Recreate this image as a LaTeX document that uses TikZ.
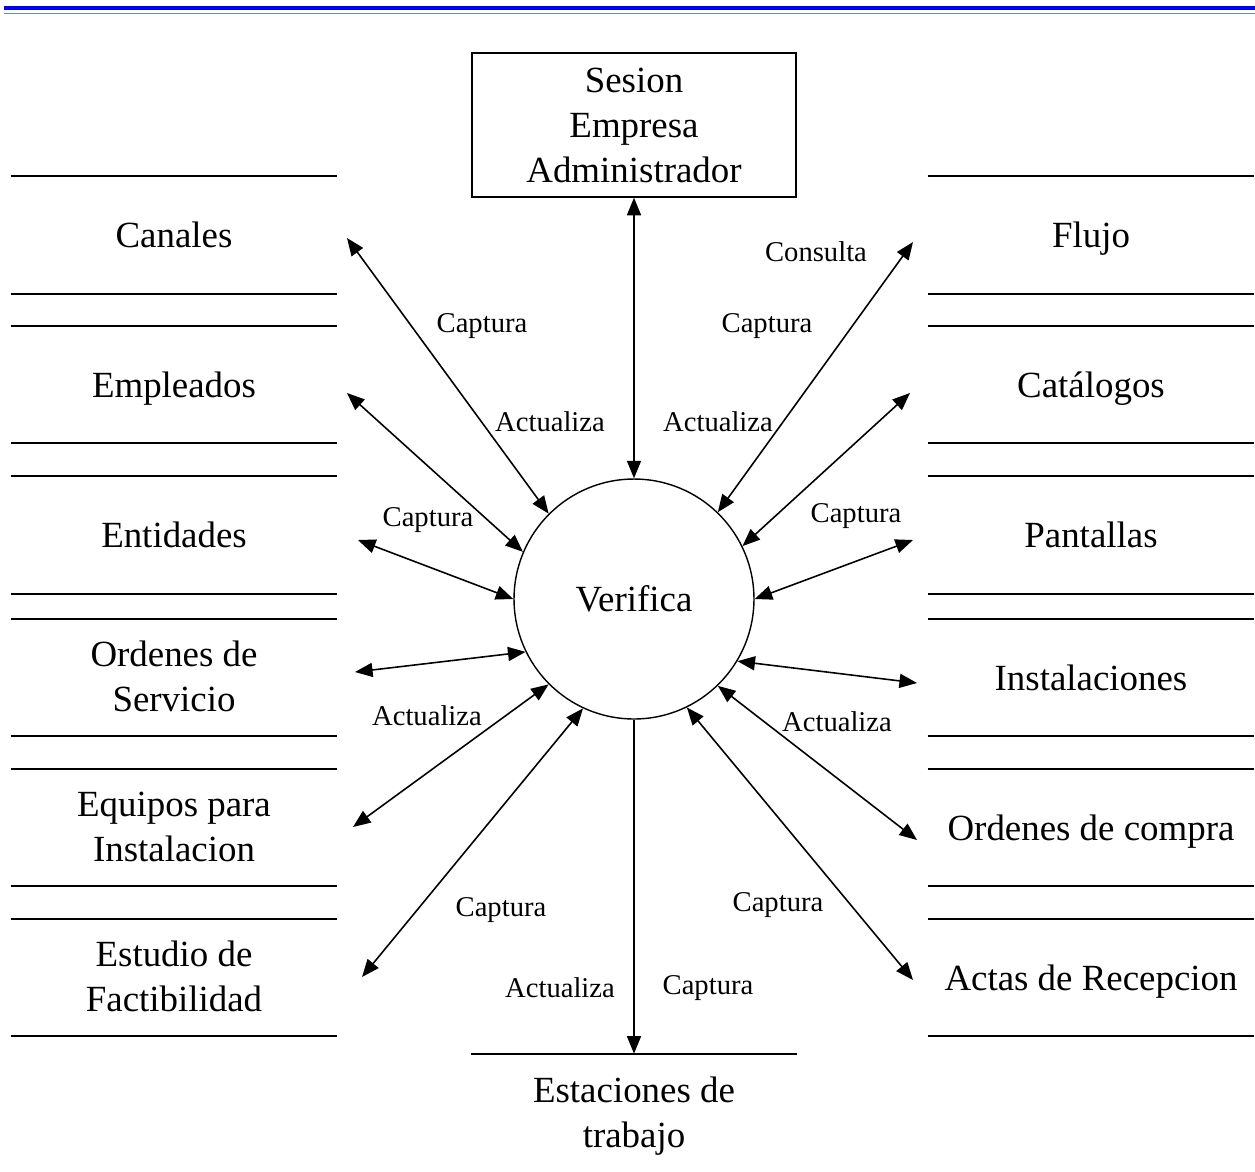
\documentclass[tikz,border=0pt]{standalone}
\usepackage{fontspec}
\setmainfont{Liberation Serif}
\usetikzlibrary{arrows.meta}
\definecolor{azulraya}{RGB}{0,0,240}
\definecolor{azulclaro}{RGB}{95,140,200}
\newcommand{\bajar}{\rule{0pt}{21pt}}

\begin{document}
\begin{tikzpicture}[x=0.02cm,y=-0.02cm,
  >={Triangle[length=10pt,width=8pt]},
  flecha/.style={<->,line width=0.9pt},
  linea/.style={line width=1.1pt},
  almacen/.style={minimum width=6.52cm,minimum height=2.34cm,inner sep=0pt,align=center,
    font=\fontsize{21}{25.6}\selectfont,execute at begin node=\rule{0pt}{22pt},execute at end node=\strut},
  etiqueta/.style={inner sep=1pt,font=\fontsize{16.3}{19}\selectfont}]
\useasboundingbox (0,0) rectangle (1255,1171);

% lineas del encabezado
\draw[azulraya,line width=2.3pt] (4,8) -- (1255,8);
\draw[azulclaro,line width=1.1pt] (4,13.5) -- (1255,13.5);

% proceso y entidad externa
\node[draw,line width=0.8pt,circle,minimum size=4.8cm,font=\fontsize{21}{25.6}\selectfont] (ver) at (634,599) {Verifica};
\node[draw,line width=0.8pt,minimum width=6.48cm,minimum height=2.88cm,align=center,
  font=\fontsize{21}{25.6}\selectfont] (sesion) at (634,125) {Sesion\\Empresa\\Administrador};

% almacenes izquierda
\node[almacen] (canales) at (174,235) {Canales};
\node[almacen] (empleados) at (174,384.5) {Empleados};
\node[almacen] (entidades) at (174,535) {Entidades};
\node[almacen] (ordserv) at (174,677.5) {\bajar Ordenes de\\Servicio};
\node[almacen] (equipos) at (174,827.5) {\bajar Equipos para\\Instalacion};
\node[almacen] (estudio) at (174,977.5) {\bajar Estudio de\\Factibilidad};

% almacenes derecha
\node[almacen] (flujo) at (1091,235) {Flujo};
\node[almacen] (catalogos) at (1091,384.5) {Catálogos};
\node[almacen] (pantallas) at (1091,535) {Pantallas};
\node[almacen] (instal) at (1091,677.5) {Instalaciones};
\node[almacen] (ordcompra) at (1091,827.5) {Ordenes de compra};
\node[almacen] (actas) at (1091,977.5) {Actas de Recepcion};

\foreach \n in {canales,empleados,entidades,ordserv,equipos,estudio,flujo,catalogos,pantallas,instal,ordcompra,actas}
  \draw[linea] (\n.north west) -- (\n.north east) (\n.south west) -- (\n.south east);

\node[almacen,minimum height=2.36cm] (estaciones) at (634,1113) {\bajar Estaciones de\\trabajo};
\draw[linea] (estaciones.north west) -- (estaciones.north east);

% extremos libres de las flechas
\coordinate (c-canales) at (347,238);
\coordinate (c-empleados) at (347,393);
\coordinate (c-entidades) at (358,540);
\coordinate (c-ordserv) at (355,672);
\coordinate (c-equipos) at (353,827);
\coordinate (c-estudio) at (362,977);
\coordinate (c-flujo) at (913,242);
\coordinate (c-catalogos) at (910,393);
\coordinate (c-pantallas) at (913,540);
\coordinate (c-instal) at (917,683);
\coordinate (c-ordcompra) at (917,840);
\coordinate (c-actas) at (913,980);

% flujos
\draw[flecha] (sesion.south) -- (ver.north);
\draw[flecha] (c-canales) -- (ver.135);
\draw[flecha] (c-empleados) -- (ver.157);
\draw[flecha] (c-entidades) -- (ver.180);
\draw[flecha] (c-ordserv) -- (ver.206);
\draw[flecha] (c-equipos) -- (ver.225);
\draw[flecha] (c-estudio) -- (ver.245);
\draw[flecha] (c-flujo) -- (ver.46);
\draw[flecha] (c-catalogos) -- (ver.26);
\draw[flecha] (c-pantallas) -- (ver.0);
\draw[flecha] (c-instal) -- (ver.-31);
\draw[flecha] (c-ordcompra) -- (ver.-46);
\draw[flecha] (c-actas) -- (ver.-64);
\draw[->,line width=0.9pt] (ver.south) -- (estaciones.north);

% etiquetas
\node[etiqueta] (e1) at (482,326) {Captura};
\node[etiqueta] (e2) at (550,422) {Actualiza};
\node[etiqueta] (e3) at (816,252) {Consulta};
\node[etiqueta] (e4) at (767,326) {Captura};
\node[etiqueta] (e5) at (718,422) {Actualiza};
\node[etiqueta] (e6) at (428,520) {Captura};
\node[etiqueta] (e7) at (856,516) {Captura};
\node[etiqueta] (e8) at (427,716) {Actualiza};
\node[etiqueta] (e9) at (837,722) {Actualiza};
\node[etiqueta] (e10) at (501,910) {Captura};
\node[etiqueta] (e11) at (778,905) {Captura};
\node[etiqueta] (e12) at (560,988) {Actualiza};
\node[etiqueta] (e13) at (708,988) {Captura};
\end{tikzpicture}
\end{document}
